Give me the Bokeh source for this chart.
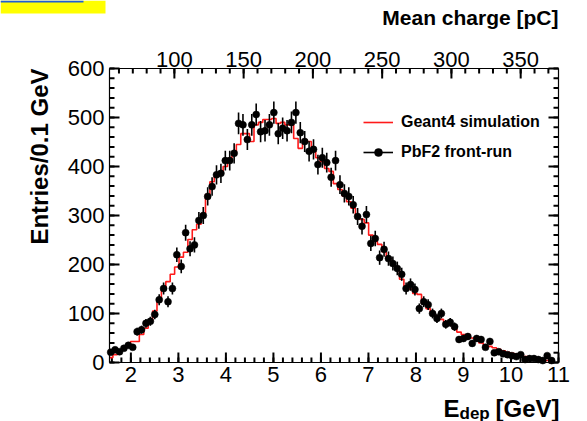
import math
import numpy as np
from bokeh.plotting import figure
from bokeh.models import (Range1d, LinearAxis, SingleIntervalTicker, Legend,
                          LegendItem, Label, BoxAnnotation)
from bokeh.embed import file_html
from bokeh.resources import INLINE

# ---- data ----
first_bin_center = 1.575      # GeV
bin_width = 0.0928            # GeV
pc_per_gev = 34.3             # mean charge [pC] per GeV (top axis)

data_counts = [21, 26, 22, 29, 35, 31, 63, 67, 80, 84,
               98, 128, 151, 124, 151, 220, 196, 265, 232, 240,
               290, 300, 339, 359, 383, 386, 412, 412, 427, 488,
               485, 455, 485, 506, 471, 473, 485, 510, 467, 478,
               473, 490, 510, 469, 451, 431, 435, 404, 418, 408,
               378, 412, 363, 345, 339, 322, 298, 278, 302, 243,
               253, 214, 231, 212, 202, 192, 180, 151, 159, 149,
               110, 124, 118, 100, 90, 100, 78, 82, 73, 47,
               49, 53, 39, 49, 47, 31, 43, 20, 22, 18,
               16, 14, 12, 16, 6, 8, 8, 6, 4, 14, 4]

sim_counts = [10, 16, 22, 28, 36, 43, 43, 57, 70, 85,
              105, 125, 150, 165, 180, 195, 215, 225, 251, 271,
              282, 304, 343, 369, 380, 386, 400, 416, 427, 445,
              467, 467, 451, 485, 490, 496, 496, 498, 488, 490,
              485, 485, 457, 437, 455, 451, 431, 418, 410, 396,
              390, 365, 353, 340, 328, 315, 300, 292, 285, 260,
              247, 241, 226, 214, 203, 190, 170, 155, 150, 141,
              139, 120, 110, 103, 95, 88, 82, 76, 69, 62,
              57, 57, 50, 45, 40, 36, 33, 30, 27, 24,
              21, 19, 17, 15, 12, 10, 9, 8, 6, 4, 3]

x_title_main, x_title_sub, x_title_unit = "E", "dep", "[GeV]"
y_title = "Entries/0.1 GeV"
top_title = "Mean charge [pC]"
legend_sim = "Geant4 simulation"
legend_data = "PbF2 front-run"

XMIN, XMAX = 1.55, 11.0
YMIN, YMAX = 0, 600
X_MAJOR, X_MINOR = 1.0, 0.2       # GeV
Y_MAJOR, Y_MINOR = 100, 20        # entries
C_MAJOR, C_MINOR = 50, 10         # pC

# ---- derived arrays ----
counts = np.array(data_counts, dtype=float)
sim = np.array(sim_counts, dtype=float)
centers = first_bin_center + bin_width * np.arange(len(counts))
errors = np.sqrt(counts)
edges = np.append(centers - bin_width / 2, centers[-1] + bin_width / 2)
edges[0] = max(edges[0], XMIN)
sim_steps = np.append(sim, sim[-1])

# ---- layout: the bokeh frame covers the whole canvas; axes sit at fixed spots ----
W, H = 587, 421
FL, FR, FT, FB = 109, 558, 68, 362          # inner plotting box (canvas px)
kx = (FR - FL) / (XMAX - XMIN)
ky = (FB - FT) / (YMAX - YMIN)
x_lo, x_hi = XMIN - FL / kx, XMAX + (W - FR) / kx
y_lo, y_hi = YMIN - (H - FB) / ky, YMAX + FT / ky

FONT = "Liberation Sans"

p = figure(width=W, height=H, output_backend="svg", toolbar_location=None,
           x_range=Range1d(x_lo, x_hi), y_range=Range1d(y_lo, y_hi),
           min_border=0, x_axis_type=None, y_axis_type=None)
p.extra_x_ranges = {"charge": Range1d(x_lo * pc_per_gev, x_hi * pc_per_gev)}
p.outline_line_color = None
p.background_fill_color = "white"
p.border_fill_color = "white"
p.xgrid.visible = False
p.ygrid.visible = False


def frame_axis(side, ticker, loc, bounds, standoff=4, range_name="default",
               labels=True):
    ax = LinearAxis(ticker=ticker, fixed_location=loc, bounds=bounds,
                    x_range_name=range_name)
    ax.axis_line_color = "black"
    ax.axis_line_width = 1.2
    ax.major_tick_line_color = None
    ax.minor_tick_line_color = None
    ax.major_tick_in = 0
    ax.major_tick_out = 0
    ax.minor_tick_in = 0
    ax.minor_tick_out = 0
    ax.major_label_text_font = FONT
    ax.major_label_text_font_size = "22px"
    ax.major_label_text_color = "black"
    ax.major_label_standoff = standoff
    if not labels:
        ax.major_label_text_alpha = 0
    p.add_layout(ax, side)
    return ax


x_ticker = SingleIntervalTicker(interval=X_MAJOR, num_minor_ticks=5)
y_ticker = SingleIntervalTicker(interval=Y_MAJOR, num_minor_ticks=5)
c_ticker = SingleIntervalTicker(interval=C_MAJOR, num_minor_ticks=5)
c_bounds = (XMIN * pc_per_gev, XMAX * pc_per_gev)

frame_axis("below", x_ticker, YMIN, (XMIN, XMAX), 4)
frame_axis("left", y_ticker, XMIN, (YMIN, YMAX), 5)
frame_axis("above", c_ticker, YMAX, c_bounds, 2, "charge")
frame_axis("right", y_ticker, XMAX, (YMIN, YMAX), labels=False)

# ---- inward tick marks (ROOT style) drawn from the tick values ----
MAJ, MIN = 10, 5   # tick lengths in px
TICK_W = 2


def tick_values(lo, hi, step):
    first = math.ceil(lo / step - 1e-9) * step
    return np.arange(first, hi + 1e-9, step)


xt_major = tick_values(XMIN, XMAX, X_MAJOR)
xt_minor = tick_values(XMIN, XMAX, X_MINOR)
yt_major = tick_values(YMIN, YMAX, Y_MAJOR)
yt_minor = tick_values(YMIN, YMAX, Y_MINOR)
ct_major = tick_values(c_bounds[0], c_bounds[1], C_MAJOR) / pc_per_gev
ct_minor = tick_values(c_bounds[0], c_bounds[1], C_MINOR) / pc_per_gev

tick_x0, tick_y0, tick_x1, tick_y1 = [], [], [], []
for vals, length in ((xt_major, MAJ), (xt_minor, MIN)):
    for v in vals:
        tick_x0.append(v); tick_y0.append(YMIN)
        tick_x1.append(v); tick_y1.append(YMIN + length / ky)
for vals, length in ((ct_major, MAJ), (ct_minor, MIN)):
    for v in vals:
        tick_x0.append(v); tick_y0.append(YMAX)
        tick_x1.append(v); tick_y1.append(YMAX - length / ky)
for vals, length in ((yt_major, MAJ), (yt_minor, MIN)):
    for v in vals:
        tick_x0.append(XMIN); tick_y0.append(v)
        tick_x1.append(XMIN + length / kx); tick_y1.append(v)
        tick_x0.append(XMAX); tick_y0.append(v)
        tick_x1.append(XMAX - length / kx); tick_y1.append(v)

p.segment(x0=tick_x0, y0=tick_y0, x1=tick_x1, y1=tick_y1,
          line_color="black", line_width=TICK_W)

# ---- glyphs ----
sim_r = p.step(edges, sim_steps, mode="after", line_color="#ff1a1a", line_width=1.6)
err_r = p.segment(x0=centers, y0=counts - errors, x1=centers, y1=counts + errors,
                  line_color="black", line_width=1.6)
pts_r = p.scatter(centers, counts, size=7, fill_color="black", line_color="black",
                  line_width=0.5)

legend = Legend(items=[LegendItem(label=legend_sim, renderers=[sim_r]),
                       LegendItem(label=legend_data, renderers=[err_r, pts_r])],
                location=(363, H - 162), orientation="vertical",
                glyph_width=30, glyph_height=20, label_height=20,
                label_standoff=8, spacing=10, padding=0, margin=0,
                border_line_alpha=0, background_fill_alpha=0,
                label_text_font=FONT, label_text_font_style="bold",
                label_text_font_size="16px", label_text_color="black")
p.add_layout(legend)

# ---- titles (canvas px, y measured from the bottom) ----
TS = "24px"


def title(text, x, y, size=TS, align="left", angle=0.0, baseline="alphabetic"):
    p.add_layout(Label(x=x, y=y, x_units="screen", y_units="screen", text=text,
                       angle=angle, text_align=align, text_baseline=baseline,
                       text_font=FONT, text_font_style="bold",
                       text_font_size=size, text_color="black"))


title(y_title, 39, H - 68, align="right", angle=math.pi / 2, baseline="middle")
title(top_title, 558, H - 17, size="21px", align="right")
title(x_title_main, 443, H - 408)
title(x_title_sub, 459, H - 413, size="17px")
title(x_title_unit, 559, H - 408, align="right")

# ---- yellow tag in the top-left corner ----
p.add_layout(BoxAnnotation(left=0, right=105, top=H, bottom=H - 13,
                           left_units="screen", right_units="screen",
                           top_units="screen", bottom_units="screen",
                           fill_color="#ffff00", fill_alpha=1, line_alpha=0))
p.add_layout(BoxAnnotation(left=0, right=83, top=H, bottom=H - 2,
                           left_units="screen", right_units="screen",
                           top_units="screen", bottom_units="screen",
                           fill_color="#1f5fd6", fill_alpha=1, line_alpha=0))

open("out.html", "w").write(file_html(p, INLINE))
